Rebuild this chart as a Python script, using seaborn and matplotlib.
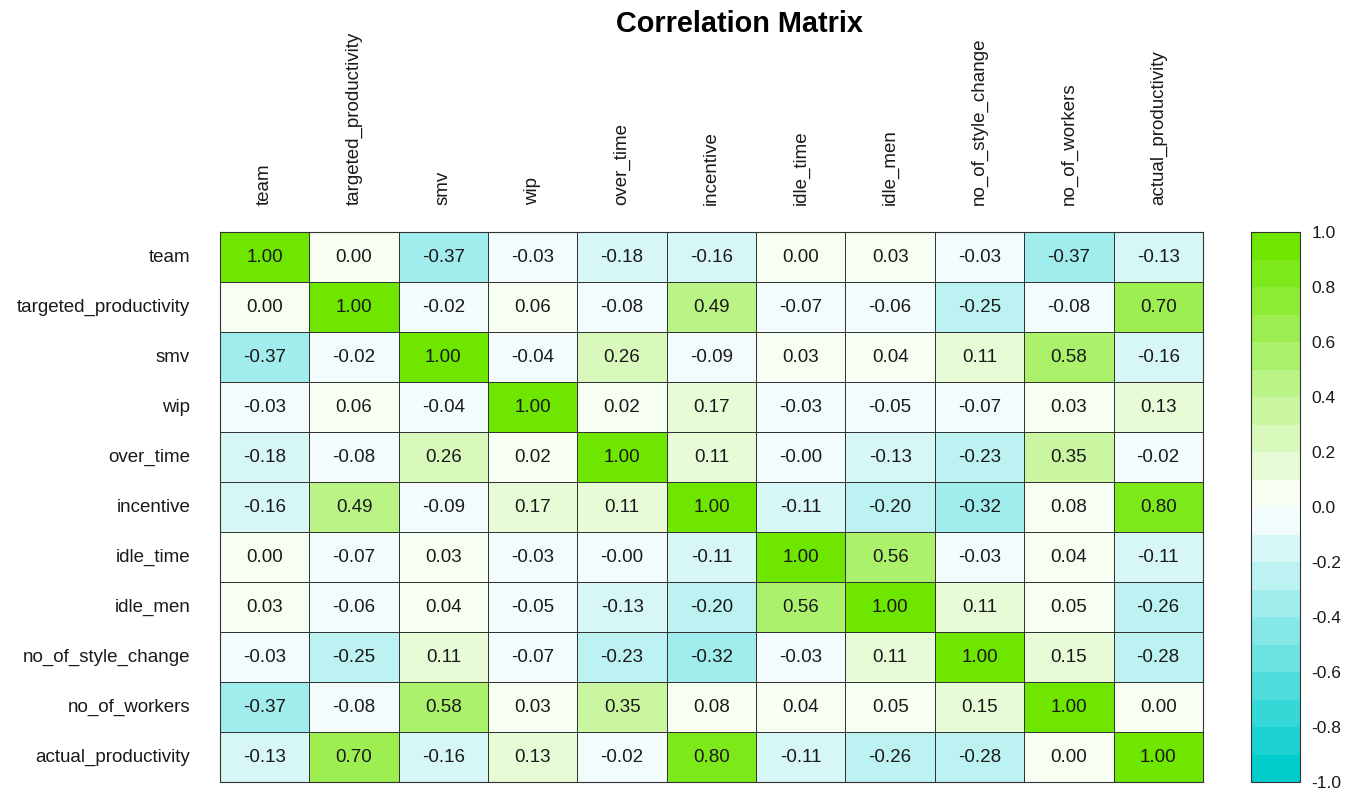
"""Correlation matrix heatmap (teal -> white -> green, 20 discrete levels)."""
import os
os.environ.setdefault("MPLBACKEND", "Agg")
import matplotlib.pyplot as plt
import seaborn as sns
import pandas as pd
from matplotlib.colors import LinearSegmentedColormap, BoundaryNorm
import numpy as np

sns.set_theme(style="white")
plt.rcParams["font.family"] = ["Liberation Sans", "DejaVu Sans"]

variables = ["team", "targeted_productivity", "smv", "wip", "over_time", "incentive",
             "idle_time", "idle_men", "no_of_style_change", "no_of_workers",
             "actual_productivity"]

row_team = [1.00, 0.00, -0.37, -0.03, -0.18, -0.16, 0.00, 0.03, -0.03, -0.37, -0.13]
row_targeted = [0.00, 1.00, -0.02, 0.06, -0.08, 0.49, -0.07, -0.06, -0.25, -0.08, 0.70]
row_smv = [-0.37, -0.02, 1.00, -0.04, 0.26, -0.09, 0.03, 0.04, 0.11, 0.58, -0.16]
row_wip = [-0.03, 0.06, -0.04, 1.00, 0.02, 0.17, -0.03, -0.05, -0.07, 0.03, 0.13]
row_over_time = [-0.18, -0.08, 0.26, 0.02, 1.00, 0.11, -0.004, -0.13, -0.23, 0.35, -0.02]
row_incentive = [-0.16, 0.49, -0.09, 0.17, 0.11, 1.00, -0.11, -0.20, -0.32, 0.08, 0.80]
row_idle_time = [0.00, -0.07, 0.03, -0.03, -0.004, -0.11, 1.00, 0.56, -0.03, 0.04, -0.11]
row_idle_men = [0.03, -0.06, 0.04, -0.05, -0.13, -0.20, 0.56, 1.00, 0.11, 0.05, -0.26]
row_style = [-0.03, -0.25, 0.11, -0.07, -0.23, -0.32, -0.03, 0.11, 1.00, 0.15, -0.28]
row_workers = [-0.37, -0.08, 0.58, 0.03, 0.35, 0.08, 0.04, 0.05, 0.15, 1.00, 0.00]
row_actual = [-0.13, 0.70, -0.16, 0.13, -0.02, 0.80, -0.11, -0.26, -0.28, 0.00, 1.00]

corr = pd.DataFrame([row_team, row_targeted, row_smv, row_wip, row_over_time,
                     row_incentive, row_idle_time, row_idle_men, row_style,
                     row_workers, row_actual], index=variables, columns=variables)

cmap = LinearSegmentedColormap.from_list("tealgreen", ["#00CCCC", "#FFFFFF", "#6EE600"], N=20)
norm = BoundaryNorm(np.linspace(-1, 1, 21), cmap.N)

fig = plt.figure(figsize=(13.5, 7.9), dpi=100)
ax = fig.add_axes([0.163, 0.0101, 0.728, 0.6962])
cax = fig.add_axes([0.9267, 0.0101, 0.0363, 0.6962])

sns.heatmap(corr, ax=ax, cbar_ax=cax, cmap=cmap, norm=norm, vmin=-1, vmax=1,
            annot=True, fmt=".2f", annot_kws={"size": 13.5, "color": "#1a1a1a"},
            linewidths=0.7, linecolor="#333333",
            cbar_kws={"ticks": np.linspace(-1, 1, 11)})

ax.xaxis.tick_top()
ax.set_xticklabels(variables, rotation=90, fontsize=13.5, color="#1a1a1a")
ax.set_yticklabels(variables, rotation=0, fontsize=13.5, color="#1a1a1a")
ax.tick_params(axis="x", length=0, pad=19.5)
ax.tick_params(axis="y", length=0, pad=21.5)
ax.set_xlabel(""); ax.set_ylabel("")
for s in ax.spines.values():
    s.set_visible(True); s.set_color("#333333"); s.set_linewidth(0.8)

cax.minorticks_off()
cax.tick_params(which="both", length=0, labelsize=12.5, pad=8, labelcolor="#1a1a1a")
cax.set_yticklabels([f"{v:.1f}" for v in np.linspace(-1, 1, 11)])
cb = ax.collections[0].colorbar
cb.outline.set_visible(True); cb.outline.set_edgecolor("#333333"); cb.outline.set_linewidth(0.8)

fig.text(0.548, 0.969, "Correlation Matrix", ha="center", va="center",
         fontsize=20.8, fontweight="bold", color="black")

plt.savefig("out.png", dpi=100)
plt.close()
